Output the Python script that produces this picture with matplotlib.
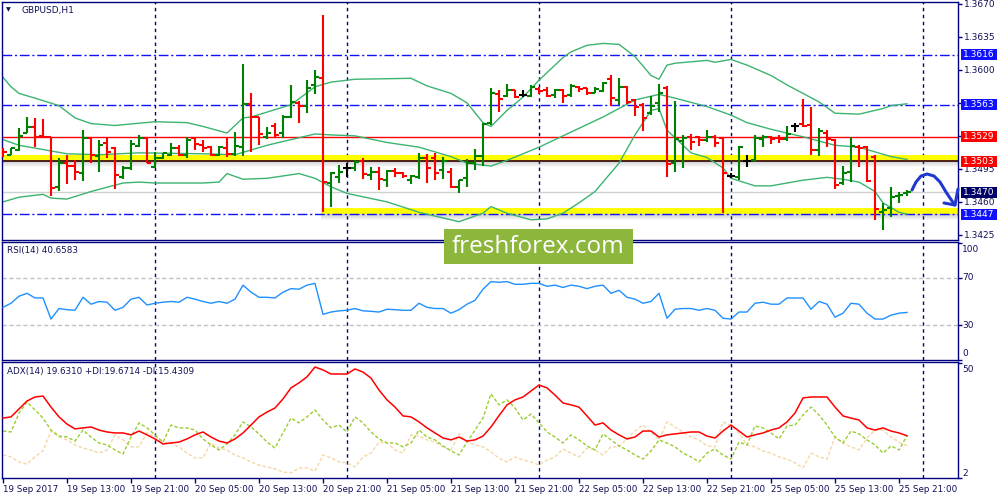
import numpy as np
import matplotlib.pyplot as plt
from matplotlib.patches import Rectangle
from matplotlib.lines import Line2D
from matplotlib.transforms import blended_transform_factory

plt.rcParams['font.family'] = ['DejaVu Sans']

# GBPUSD H1 bars, first bar = 19 Sep 2017 05:00, last = 25 Sep 22:00
opens = [
    1.3516, 1.3510, 1.3515, 1.3533, 1.3539, 1.3530, 1.3529, 1.3476, 1.3501, 1.3498,
    1.3491, 1.3528, 1.3509, 1.3522, 1.3517, 1.3486, 1.3496, 1.3519, 1.3528, 1.3497,
    1.3507, 1.3510, 1.3517, 1.3510, 1.3528, 1.3520, 1.3518, 1.3510, 1.3517, 1.3511,
    1.3518, 1.3564, 1.3550, 1.3529, 1.3540, 1.3533, 1.3550, 1.3565, 1.3562, 1.3584,
    1.3591, 1.3480, 1.3486, 1.3496, 1.3496, 1.3503, 1.3489, 1.3492, 1.3483, 1.3493,
    1.3491, 1.3483, 1.3486, 1.3507, 1.3507, 1.3494, 1.3492, 1.3476, 1.3485, 1.3501,
    1.3509, 1.3544, 1.3574, 1.3572, 1.3579, 1.3573, 1.3572, 1.3580, 1.3579, 1.3573,
    1.3579, 1.3573, 1.3582, 1.3581, 1.3575, 1.3578, 1.3590, 1.3568, 1.3582, 1.3568,
    1.3563, 1.3554, 1.3565, 1.3581, 1.3501, 1.3525, 1.3529, 1.3529, 1.3526, 1.3529,
    1.3528, 1.3487, 1.3486, 1.3503, 1.3504, 1.3527, 1.3529, 1.3528, 1.3527, 1.3540,
    1.3543, 1.3541, 1.3515, 1.3533, 1.3526, 1.3480, 1.3492, 1.3518, 1.3518, 1.3508,
    1.3449, 1.3454, 1.3466, 1.3469]
highs = [
    1.3517, 1.3517, 1.3538, 1.3550, 1.3549, 1.3548, 1.3529, 1.3507, 1.3510, 1.3504,
    1.3536, 1.3528, 1.3526, 1.3528, 1.3518, 1.3498, 1.3526, 1.3531, 1.3529, 1.3513,
    1.3512, 1.3522, 1.3520, 1.3529, 1.3529, 1.3526, 1.3519, 1.3519, 1.3529, 1.3534,
    1.3606, 1.3575, 1.3550, 1.3539, 1.3544, 1.3552, 1.3584, 1.3567, 1.3589, 1.3600,
    1.3658, 1.3492, 1.3499, 1.3501, 1.3504, 1.3507, 1.3497, 1.3497, 1.3494, 1.3496,
    1.3492, 1.3489, 1.3512, 1.3511, 1.3512, 1.3508, 1.3496, 1.3483, 1.3505, 1.3516,
    1.3544, 1.3581, 1.3579, 1.3585, 1.3579, 1.3579, 1.3584, 1.3582, 1.3582, 1.3580,
    1.3580, 1.3585, 1.3583, 1.3581, 1.3582, 1.3587, 1.3594, 1.3591, 1.3583, 1.3569,
    1.3565, 1.3572, 1.3585, 1.3583, 1.3567, 1.3531, 1.3532, 1.3530, 1.3536, 1.3531,
    1.3529, 1.3491, 1.3519, 1.3510, 1.3531, 1.3531, 1.3530, 1.3531, 1.3540, 1.3544,
    1.3569, 1.3561, 1.3538, 1.3536, 1.3527, 1.3498, 1.3529, 1.3520, 1.3519, 1.3510,
    1.3459, 1.3476, 1.3471, 1.3473]
lows = [
    1.3508, 1.3510, 1.3514, 1.3533, 1.3518, 1.3528, 1.3466, 1.3472, 1.3479, 1.3483,
    1.3482, 1.3501, 1.3492, 1.3507, 1.3474, 1.3484, 1.3494, 1.3518, 1.3501, 1.3496,
    1.3505, 1.3509, 1.3509, 1.3507, 1.3515, 1.3513, 1.3509, 1.3509, 1.3508, 1.3509,
    1.3509, 1.3513, 1.3520, 1.3527, 1.3529, 1.3528, 1.3549, 1.3544, 1.3554, 1.3574,
    1.3449, 1.3455, 1.3480, 1.3486, 1.3493, 1.3484, 1.3483, 1.3473, 1.3476, 1.3486,
    1.3485, 1.3479, 1.3484, 1.3480, 1.3483, 1.3484, 1.3475, 1.3469, 1.3476, 1.3494,
    1.3498, 1.3541, 1.3555, 1.3571, 1.3570, 1.3571, 1.3571, 1.3574, 1.3571, 1.3570,
    1.3565, 1.3571, 1.3576, 1.3573, 1.3575, 1.3576, 1.3562, 1.3563, 1.3564, 1.3551,
    1.3535, 1.3552, 1.3555, 1.3486, 1.3492, 1.3496, 1.3515, 1.3519, 1.3523, 1.3518,
    1.3448, 1.3485, 1.3483, 1.3497, 1.3502, 1.3518, 1.3521, 1.3522, 1.3525, 1.3534,
    1.3539, 1.3510, 1.3509, 1.3518, 1.3474, 1.3478, 1.3481, 1.3497, 1.3481, 1.3441,
    1.3430, 1.3444, 1.3459, 1.3466]
closes = [
    1.3513, 1.3517, 1.3530, 1.3539, 1.3529, 1.3529, 1.3475, 1.3501, 1.3498, 1.3492,
    1.3528, 1.3510, 1.3520, 1.3513, 1.3489, 1.3496, 1.3521, 1.3528, 1.3501, 1.3507,
    1.3512, 1.3517, 1.3510, 1.3526, 1.3521, 1.3517, 1.3510, 1.3518, 1.3511, 1.3519,
    1.3564, 1.3550, 1.3532, 1.3533, 1.3531, 1.3550, 1.3566, 1.3562, 1.3581, 1.3592,
    1.3481, 1.3491, 1.3492, 1.3496, 1.3502, 1.3490, 1.3492, 1.3484, 1.3493, 1.3491,
    1.3487, 1.3487, 1.3507, 1.3496, 1.3491, 1.3503, 1.3476, 1.3483, 1.3501, 1.3509,
    1.3543, 1.3575, 1.3569, 1.3579, 1.3571, 1.3573, 1.3582, 1.3578, 1.3572, 1.3579,
    1.3572, 1.3583, 1.3580, 1.3575, 1.3580, 1.3586, 1.3570, 1.3582, 1.3566, 1.3561,
    1.3549, 1.3562, 1.3575, 1.3500, 1.3527, 1.3528, 1.3523, 1.3526, 1.3529, 1.3522,
    1.3491, 1.3487, 1.3518, 1.3503, 1.3528, 1.3529, 1.3527, 1.3527, 1.3532, 1.3540,
    1.3540, 1.3515, 1.3535, 1.3527, 1.3478, 1.3491, 1.3519, 1.3517, 1.3482, 1.3452,
    1.3451, 1.3465, 1.3467, 1.3470]

# Bollinger bands (bar index, price)
bb_up_x = [0, 1, 2, 4, 7, 9, 11, 14, 19, 23, 25, 28, 30, 31, 36, 39, 41, 44, 51, 53,
           56, 58, 60, 61, 63, 65, 67, 70, 71, 73, 75, 77, 79, 81, 82, 83, 84, 88, 89, 91,
           93, 96, 98, 100, 102, 104, 107, 110, 111, 113]
bb_up = [1.3592, 1.3582, 1.3575, 1.3570, 1.3562, 1.3549, 1.3543, 1.3541, 1.3545, 1.3544,
         1.3540, 1.3533, 1.3549, 1.3550, 1.3563, 1.3582, 1.3587, 1.3590, 1.3591, 1.3583,
         1.3575, 1.3565, 1.3544, 1.3540, 1.3557, 1.3571, 1.3589, 1.3613, 1.3619, 1.3626,
         1.3628, 1.3627, 1.3614, 1.3594, 1.3590, 1.3605, 1.3607, 1.3610, 1.3608, 1.3611,
         1.3605, 1.3594, 1.3584, 1.3575, 1.3566, 1.3554, 1.3553, 1.3559, 1.3562, 1.3564]
bb_mid_x = [0, 2, 8, 12, 17, 25, 29, 33, 36, 39, 41, 44, 48, 52, 56, 58, 61, 63, 67, 71,
            75, 79, 82, 84, 88, 91, 93, 96, 100, 104, 107, 109, 111, 113]
bb_mid = [1.3526, 1.3520, 1.3511, 1.3510, 1.3512, 1.3511, 1.3510, 1.3520, 1.3526, 1.3532,
          1.3531, 1.3530, 1.3523, 1.3518, 1.3508, 1.3501, 1.3498, 1.3504, 1.3518, 1.3534,
          1.3550, 1.3568, 1.3574, 1.3570, 1.3561, 1.3552, 1.3544, 1.3537, 1.3529, 1.3520,
          1.3518, 1.3513, 1.3508, 1.3505]
bb_low_x = [0, 2, 5, 6, 8, 11, 15, 17, 19, 25, 27, 28, 30, 33, 37, 39, 41, 43, 48, 52,
            57, 60, 61, 63, 66, 68, 70, 72, 74, 77, 79, 81, 82, 83, 86, 88, 90, 91, 94, 96,
            100, 103, 105, 107, 109, 110, 112, 113]
bb_low = [1.3460, 1.3465, 1.3468, 1.3464, 1.3463, 1.3471, 1.3480, 1.3481, 1.3480, 1.3480,
          1.3481, 1.3490, 1.3484, 1.3485, 1.3490, 1.3485, 1.3476, 1.3469, 1.3460, 1.3449,
          1.3439, 1.3448, 1.3455, 1.3448, 1.3441, 1.3442, 1.3448, 1.3459, 1.3471, 1.3501,
          1.3531, 1.3557, 1.3559, 1.3536, 1.3512, 1.3507, 1.3496, 1.3485, 1.3477, 1.3477,
          1.3483, 1.3486, 1.3484, 1.3481, 1.3471, 1.3459, 1.3449, 1.3447]

rsi = [45, 48.5, 54.5, 57, 53, 53, 35, 44, 43, 42.5,
       53.6, 47.7, 50, 49.4, 42.5, 45, 52, 53.6, 47, 48.5,
       49.4, 50, 49.4, 53.6, 52, 50, 48.5, 50, 48.5, 52,
       64, 58, 53.6, 53.6, 53, 58, 61, 60.5, 64, 65.5,
       39, 41, 42, 42.5, 44, 42, 41.6, 41, 43.4, 43,
       42.5, 42.5, 48.5, 45, 44, 44, 40, 43, 47.7, 51,
       60.5, 67, 66.4, 67, 64.7, 64.7, 65.5, 65.5, 63, 64,
       62, 64, 63, 61, 63, 64, 57, 59.6, 53.6, 52,
       48.5, 50, 57, 35.7, 43.4, 44, 44, 42.5, 44, 42.5,
       35.7, 35, 41, 41, 48.5, 49.4, 47.7, 47.7, 53, 53,
       53, 43.4, 50, 47.7, 36.6, 40, 48.5, 47.7, 40, 35,
       35, 38.3, 40, 40.66]

adx = [27, 27.5, 30.8, 34.1, 35.8, 36.2, 31.6, 27.5, 24.5, 22.5,
       22.9, 23.3, 22, 21.2, 20.8, 20.8, 20, 21.6, 20, 18.3,
       16.2, 16.6, 17, 18.3, 20, 21.2, 19.1, 17.4, 16.6, 18.3,
       20.8, 24.1, 27.5, 29.5, 31.2, 35, 39.6, 41.7, 44.2, 48.3,
       47.1, 45.4, 45.4, 45.4, 47.5, 46.2, 43.7, 38.7, 34.6, 31.6,
       27.9, 27.5, 25.4, 22.9, 20.8, 18.7, 17.9, 19.1, 17.4, 17.9,
       19.5, 23.3, 28, 32.5, 34.6, 35.8, 38.3, 40.8, 39.6, 36.6,
       33.3, 32.5, 31.6, 27.9, 24.1, 25, 22, 20, 18.3, 19.1,
       21.6, 21.6, 19.1, 20, 20.4, 20.8, 21.2, 21.2, 19.5, 18.7,
       21.6, 24.1, 21.6, 19.1, 20, 20.8, 22, 22.9, 25.4, 29.1,
       35.4, 35.8, 35.8, 35.8, 31.6, 27.9, 27, 26.2, 22.9, 22,
       22.9, 21.6, 20.8, 19.63]
plus_di = [21.6, 21.2, 29.1, 33.7, 30.4, 27, 22, 19.5, 19.1, 17.4,
           22, 19.1, 16.6, 15.8, 13.7, 12, 19.1, 25, 22.9, 20,
           17, 24.1, 22.9, 22.9, 22, 18.3, 15.8, 13.7, 16.2, 20,
           25.4, 23.3, 20.4, 17, 14.5, 20.8, 27, 25, 27.5, 30.4,
           26.2, 22.9, 24.1, 21.2, 27.5, 25, 21.2, 18.3, 16.6, 16.6,
           15, 16.6, 22, 19.1, 17.9, 15.4, 13.3, 11.6, 17, 22,
           27, 37.1, 32.5, 34.6, 31.2, 26.2, 28.7, 25, 21.2, 19.1,
           16.6, 20, 17.9, 15.4, 13.7, 20.4, 17.9, 15.4, 13.7, 11.6,
           9.9, 13.3, 17.9, 16.6, 15, 12.4, 10.8, 8.7, 12.4, 14.1,
           11.6, 9.9, 17, 15.8, 23.7, 22.9, 20.8, 18.3, 23.7, 24.1,
           28.3, 31.6, 28.3, 24.1, 19.1, 16.6, 21.6, 20.4, 17.9, 15.8,
           12.4, 15.4, 13.7, 19.67]
minus_di = [11.6, 10.8, 8.7, 7.8, 10.8, 13.3, 21.6, 19.1, 17.9, 15.8,
            14.5, 13.7, 12.4, 13.7, 20, 17.9, 15, 15, 20.8, 19.1,
            17, 16.6, 15, 12.4, 10.4, 10.4, 16.6, 14.5, 13.7, 11.6,
            10.4, 8.7, 7.4, 6.6, 5.8, 4.5, 4.1, 6.2, 6.2, 4.9,
            11.6, 10.4, 8.7, 8.3, 6.6, 10.8, 12.4, 17, 16.6, 13.7,
            12.4, 20, 19.5, 17.9, 17, 15, 13.7, 20.4, 17, 15.8,
            15, 12.9, 10.2, 8.7, 10.8, 9.5, 8.7, 7.4, 9.5, 10.8,
            14.1, 12.4, 10.8, 14.5, 13.7, 11.6, 15, 15, 18.3, 21.6,
            24.1, 21.2, 17.9, 25.4, 23.3, 21.2, 19.1, 17.9, 15.4, 15,
            25.4, 23.7, 20.8, 15.8, 15, 13.3, 12.4, 10.8, 9.9, 8.3,
            6.2, 12.4, 10.8, 9.9, 19.1, 16.6, 15, 13.7, 18.7, 22,
            22, 19.1, 17, 15.43]

date_bars = [0, 8, 16, 24, 32, 40, 48, 56, 64, 72, 80, 88, 96, 104, 112]
date_labels = ['19 Sep 2017', '19 Sep 13:00', '19 Sep 21:00', '20 Sep 05:00',
               '20 Sep 13:00', '20 Sep 21:00', '21 Sep 05:00', '21 Sep 13:00',
               '21 Sep 21:00', '22 Sep 05:00', '22 Sep 13:00', '22 Sep 21:00',
               '25 Sep 05:00', '25 Sep 13:00', '25 Sep 21:00']
day_breaks = [19, 43, 67, 91, 115]
price_ticks = [1.3670, 1.3635, 1.3600, 1.3565, 1.3530, 1.3495, 1.3460, 1.3425]

blue_levels = [1.3616, 1.3563, 1.3447]
red_level = 1.3529
last_price = 1.3470
zones = [1.3503, 1.3447]          # yellow zones (price at bottom edge)
zone_start = [0, 40]              # first bar of each zone
price_boxes = [1.3616, 1.3563, 1.3529, 1.3503, 1.3470, 1.3447]
box_colors = ['#1010ff', '#1010ff', '#ff0000', '#ff0000', '#000066', '#1010ff']

NAVY = '#000080'
TXT = '#10105a'
PX = 0.000106   # one pixel in price units on the main panel

fig = plt.figure(figsize=(10, 5), dpi=100, facecolor='white')


def box(l, t, r, b):
    return [l / 1000, 1 - b / 500, (r - l) / 1000, (b - t) / 500]


ax1 = fig.add_axes(box(2, 2, 958, 240))
ax2 = fig.add_axes(box(2, 242, 958, 360))
ax3 = fig.add_axes(box(2, 362, 958, 478))
xlim = (-0.125, 119.375)

for ax in (ax1, ax2, ax3):
    ax.set_xlim(*xlim)
    for s in ax.spines.values():
        s.set_color(NAVY)
        s.set_linewidth(1.0)
    ax.yaxis.tick_right()
    ax.tick_params(axis='y', direction='out', length=3, width=1, color=NAVY,
                   labelcolor=TXT, labelsize=6.5, pad=1.5)
    for d in day_breaks:
        ax.axvline(d, color=NAVY, lw=1, ls=(0, (2.5, 2.5)), zorder=1)
ax1.set_xticks([])
ax2.set_xticks([])

# ---- main panel ----
ax1.set_ylim(1.34196, 1.36719)
ax1.set_yticks(price_ticks)
ax1.set_yticklabels(['%.4f' % p for p in price_ticks])

for lvl, st in zip(zones, zone_start):
    x0 = st - 0.3
    ax1.fill_between([x0, xlim[1]], lvl, lvl + 6 * PX, color='#ffff00', lw=0, zorder=1)
    for k in range(6):
        ax1.fill_between([x0, xlim[1]], lvl - k * PX, lvl - (k + 1) * PX,
                         color='#707070', alpha=0.32 * (1 - k / 6), lw=0, zorder=1)
ax1.hlines(zones[0], xlim[0], xlim[1], color='#401010', lw=1.3, zorder=1.5)

for lvl in blue_levels:
    ax1.axhline(lvl, color='#1010ff', lw=1, ls=(0, (7, 2, 1.5, 2)), zorder=1.6)
ax1.axhline(red_level, color='#ff0000', lw=1, zorder=1.6)
ax1.axhline(last_price, color='#d0d0d0', lw=1, zorder=1.2)

ax1.plot(bb_up_x, bb_up, color='#3cb371', lw=1, zorder=2)
ax1.plot(bb_mid_x, bb_mid, color='#3cb371', lw=1, zorder=2)
ax1.plot(bb_low_x, bb_low, color='#3cb371', lw=1, zorder=2)

o = np.array(opens); h = np.array(highs); l = np.array(lows); c = np.array(closes)
idx = np.arange(len(o))
cols = np.where(c > o, '#008000', np.where(c < o, '#ff0000', '#000000'))
ax1.vlines(idx, l, h, colors=cols, lw=1.5, zorder=3)
ax1.hlines(o, idx - 0.45, idx, colors=cols, lw=1.5, zorder=3)
ax1.hlines(c, idx, idx + 0.45, colors=cols, lw=1.5, zorder=3)

yb = blended_transform_factory(fig.transFigure, ax1.transData)
for p, col in zip(price_boxes, box_colors):
    fig.add_artist(Rectangle((961 / 1000, p - 5.5 * PX), 36 / 1000, 11 * PX,
                             transform=yb, fc=col, ec='none', zorder=5))
    fig.text(963 / 1000, p, '%.4f' % p, transform=yb, color='white', fontsize=6.5,
             va='center', ha='left', zorder=6)

fig.text(22 / 1000, 1 - 11 / 500, 'GBPUSD,H1', color=TXT, fontsize=6.5, va='center')
fig.text(6 / 1000, 1 - 10 / 500, '\u25bc', color=TXT, fontsize=4.5, va='center')

# hand drawn forecast arrow
arrow_px = [(912, 190), (916, 182), (921, 176), (927, 174), (934, 176), (940, 182),
            (946, 192), (952, 201), (955, 205)]
head_px = [(944, 203), (955, 205), (958, 189)]
for pts in (arrow_px, head_px):
    fig.add_artist(Line2D([p[0] / 1000 for p in pts], [1 - p[1] / 500 for p in pts],
                          color='#2038d0', lw=2.2, solid_capstyle='round',
                          solid_joinstyle='round', zorder=4))

# ---- RSI ----
ax2.set_ylim(0, 100.85)
ax2.set_yticks([0, 30, 70, 100])
ax2.set_yticklabels([])
for lv in (30, 70):
    ax2.axhline(lv, color='#c0c0c0', lw=1, ls=(0, (3, 2)), zorder=1)
ax2.plot(idx, rsi, color='#1e90ff', lw=1, zorder=3)
ax2.text(0.005, 0.93, 'RSI(14) 40.6583', transform=ax2.transAxes, color=TXT,
         fontsize=6.3, va='center')
for s, ypx in (('100', 249), ('70', 278), ('30', 325), ('0', 353)):
    fig.text(962 / 1000, 1 - ypx / 500, s, color=TXT, fontsize=6.5, va='center')

# ---- ADX ----
ax3.set_ylim(2, 50.4)
ax3.set_yticks([2, 50])
ax3.set_yticklabels([])
ax3.plot(idx, minus_di, color='#f5d7a8', lw=1, ls=(0, (2.5, 1.5)), zorder=2)
ax3.plot(idx, plus_di, color='#9acd32', lw=1, ls=(0, (2.5, 1.5)), zorder=2)
ax3.plot(idx, adx, color='#ff0000', lw=1.1, zorder=3)
ax3.text(0.005, 0.92, 'ADX(14) 19.6310 +DI:19.6714 -DI:15.4309', transform=ax3.transAxes,
         color=TXT, fontsize=6.3, va='center')
for s, ypx in (('50', 369), ('2', 473)):
    fig.text(962 / 1000, 1 - ypx / 500, s, color=TXT, fontsize=6.5, va='center')

ax3.set_xticks(date_bars)
ax3.set_xticklabels(date_labels)
ax3.tick_params(axis='x', direction='out', length=3.5, width=1, color=NAVY,
                labelcolor=TXT, labelsize=6.3, pad=1.5)
for lb in ax3.get_xticklabels():
    lb.set_ha('left')

# watermark
fig.add_artist(Rectangle((444 / 1000, 1 - 264 / 500), 189 / 1000, 35 / 500,
                         transform=fig.transFigure, fc='#8db63c', ec='none', zorder=7))
fig.text(538 / 1000, 1 - 247 / 500, 'freshforex.com', color='white', fontsize=17.5,
         family='Open Sans', ha='center', va='center', zorder=8)

fig.savefig('out.png', dpi=100, facecolor='white')
